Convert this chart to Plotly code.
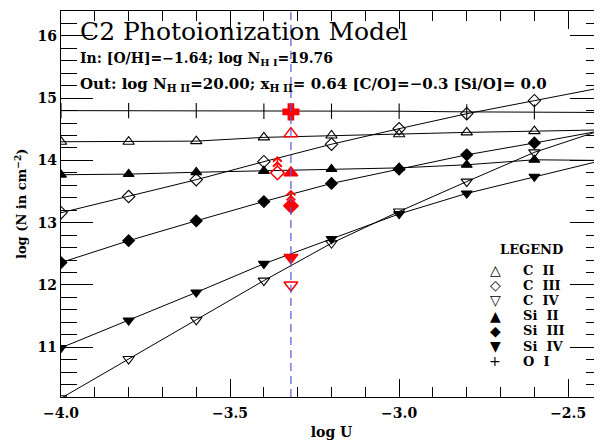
import plotly.graph_objects as go

# ---------------- data ----------------
log_u = [-4.0, -3.8, -3.6, -3.4, -3.2, -3.0, -2.8, -2.6, -2.4]
c_ii   = [14.30, 14.30, 14.31, 14.37, 14.40, 14.42, 14.45, 14.47, 14.49]
c_iii  = [13.16, 13.42, 13.69, 13.98, 14.26, 14.51, 14.75, 14.96, 15.17]
c_iv   = [10.18, 10.81, 11.44, 12.07, 12.67, 13.18, 13.66, 14.13, 14.49]
si_ii  = [13.77, 13.78, 13.81, 13.83, 13.86, 13.88, 13.93, 14.01, 14.00]
si_iii = [12.36, 12.71, 13.03, 13.34, 13.63, 13.86, 14.09, 14.28, 14.48]
si_iv  = [10.99, 11.43, 11.88, 12.34, 12.74, 13.14, 13.47, 13.74, 14.00]
o_i    = [14.80, 14.80, 14.80, 14.79, 14.79, 14.79, 14.78, 14.78, 14.77]

model_log_u = -3.32          # best model (dashed line)
limit_log_u = -3.36          # offset position of C III lower limit
obs_o_i = 14.78
obs_c_ii = 14.43
obs_c_iii_lim = 13.80
obs_si_ii = 13.80
obs_si_iii_lim = 13.27
obs_si_iv = 12.44
obs_c_iv = 12.00

legend_names = ["C\u00a0\u00a0II", "C\u00a0\u00a0III", "C\u00a0\u00a0IV", "Si\u00a0\u00a0II",
                "Si\u00a0\u00a0III", "Si\u00a0\u00a0IV", "O\u00a0\u00a0I"]
legend_glyphs = ["\u25B3", "\u25C7", "\u25BD", "\u25B2", "\u25C6", "\u25BC", "+"]

# ---------------- layout constants ----------------
# the page body adds an 8px margin, so the figure is drawn 8px smaller
OFF = 8
W, H = 602 - OFF, 440 - OFF
ML, MR, MT, MB = 53, 0, 3, 43
PW, PH = W - ML - MR, H - MT - MB
SERIF = "DejaVu Serif"


def px(xp):
    """window pixel x -> paper coordinate"""
    return (xp - OFF - ML) / PW


def py(yp):
    """window pixel y -> paper coordinate"""
    return (H - MB - (yp - OFF)) / PH


fig = go.Figure()

series = [
    (c_ii, "triangle-up-open", 10),
    (c_iii, "diamond-open", 9.5),
    (c_iv, "triangle-down-open", 10),
    (si_ii, "triangle-up", 9.5),
    (si_iii, "diamond", 9),
    (si_iv, "triangle-down", 9.5),
    (o_i, "line-ns-open", 11),
]
for vals, sym, size in series:
    fig.add_trace(go.Scatter(
        x=log_u, y=vals, mode="lines+markers",
        line=dict(color="black", width=1),
        marker=dict(symbol=sym, size=size, color="black",
                    line=dict(color="black", width=1.1)),
        showlegend=False, hoverinfo="skip"))

# observed values (red)
red = "#ff0000"
obs = [
    (model_log_u, obs_o_i, "cross", 13),
    (model_log_u, obs_c_ii, "triangle-up-open", 12),
    (limit_log_u, obs_c_iii_lim, "diamond-open", 10.5),
    (model_log_u, obs_si_ii, "triangle-up", 12),
    (model_log_u, obs_si_iii_lim, "diamond", 11),
    (model_log_u, obs_si_iv, "triangle-down", 12),
    (model_log_u, obs_c_iv, "triangle-down-open", 12),
]
for xv, yv, sym, size in obs:
    fig.add_trace(go.Scatter(
        x=[xv], y=[yv], mode="markers",
        marker=dict(symbol=sym, size=size, color=red, line=dict(color=red, width=1.5)),
        showlegend=False, hoverinfo="skip"))

# lower-limit arrows (double chevrons)
for xv, yv, head, head2, tail in [(limit_log_u, obs_c_iii_lim, 0.27, 0.19, 0.09),
                                   (model_log_u, obs_si_iii_lim, 0.26, 0.18, 0.10)]:
    for h in (head, head2):
        fig.add_annotation(x=xv, y=yv + h, ax=xv, ay=yv + tail, xref="x", yref="y",
                           axref="x", ayref="y", text="", showarrow=True,
                           arrowhead=4, arrowsize=1.2, arrowwidth=1.4, arrowcolor=red)

# dashed model line
fig.add_shape(type="line", x0=model_log_u, x1=model_log_u, xref="x", yref="paper",
              y0=0, y1=1, line=dict(color="#5858e0", width=1.2, dash="8px,5px"))

# header texts
fig.add_annotation(xref="paper", yref="paper", x=px(78), y=py(32), xanchor="left",
                   yanchor="middle", showarrow=False, text="C2 Photoionization Model",
                   font=dict(family=SERIF, size=25, color="black"))
fig.add_annotation(xref="paper", yref="paper", x=px(78), y=py(59), xanchor="left",
                   yanchor="middle", showarrow=False,
                   text="<b>In: [O/H]=\u22121.64; log N<sub>H\u00a0I</sub>=19.76</b>",
                   font=dict(family=SERIF, size=14, color="black"))
fig.add_annotation(xref="paper", yref="paper", x=px(78), y=py(84), xanchor="left",
                   yanchor="middle", showarrow=False,
                   text="<b>Out: log N<sub>H\u00a0II</sub>=20.00; x<sub>H\u00a0II</sub>= 0.64 [C/O]=\u22120.3 [Si/O]= 0.0</b>",
                   font=dict(family=SERIF, size=15, color="black"))

# y axis title
fig.add_annotation(xref="paper", yref="paper", x=px(20), y=py(204), xanchor="center",
                   yanchor="middle", showarrow=False, textangle=-90,
                   text="<b>log (N in cm<sup>\u22122</sup>)</b>",
                   font=dict(family=SERIF, size=13, color="black"))

# legend (text)
fig.add_annotation(xref="paper", yref="paper", x=px(531), y=py(249), xanchor="center",
                   yanchor="middle", showarrow=False, text="<b>LEGEND</b>",
                   font=dict(family=SERIF, size=13, color="black"))
for i, (g, n) in enumerate(zip(legend_glyphs, legend_names)):
    yy = 270 + i * 15.2
    fig.add_annotation(xref="paper", yref="paper", x=px(495), y=py(yy), xanchor="center",
                       yanchor="middle", showarrow=False, text=g,
                       font=dict(family="DejaVu Sans", size=14, color="black"))
    fig.add_annotation(xref="paper", yref="paper", x=px(521), y=py(yy), xanchor="left",
                       yanchor="middle", showarrow=False, text="<b>" + n + "</b>",
                       font=dict(family=SERIF, size=13, color="black"))

axis_font = dict(family=SERIF, size=14, color="black")
fig.update_xaxes(range=[-4.0, -2.4], dtick=0.5, tick0=-4.0, tickformat=".1f",
                 ticks="inside", ticklen=18, tickwidth=1, tickcolor="black",
                 minor=dict(dtick=0.1, ticks="inside", ticklen=10, tickcolor="black", tickwidth=1),
                 showline=True, linecolor="black", linewidth=1.2, mirror="ticks",
                 showgrid=False, zeroline=False, automargin=False, ticklabelstandoff=3,
                 tickfont=dict(family=SERIF, size=14, color="black", weight="bold"),
                 title=dict(text="<b>log U</b>", font=axis_font, standoff=10))
fig.update_yaxes(range=[10.2, 16.4], dtick=1, tick0=10,
                 ticks="inside", ticklen=32, tickwidth=1, tickcolor="black",
                 minor=dict(dtick=0.2, ticks="inside", ticklen=16, tickcolor="black", tickwidth=1),
                 showline=True, linecolor="black", linewidth=1.2, mirror="ticks",
                 showgrid=False, zeroline=False, automargin=False,
                 tickfont=dict(family=SERIF, size=14, color="black", weight="bold"))

fig.update_layout(width=W, height=H, margin=dict(l=ML, r=MR, t=MT, b=MB, pad=0),
                  plot_bgcolor="white", paper_bgcolor="white", showlegend=False)

fig.write_html("out.html")
